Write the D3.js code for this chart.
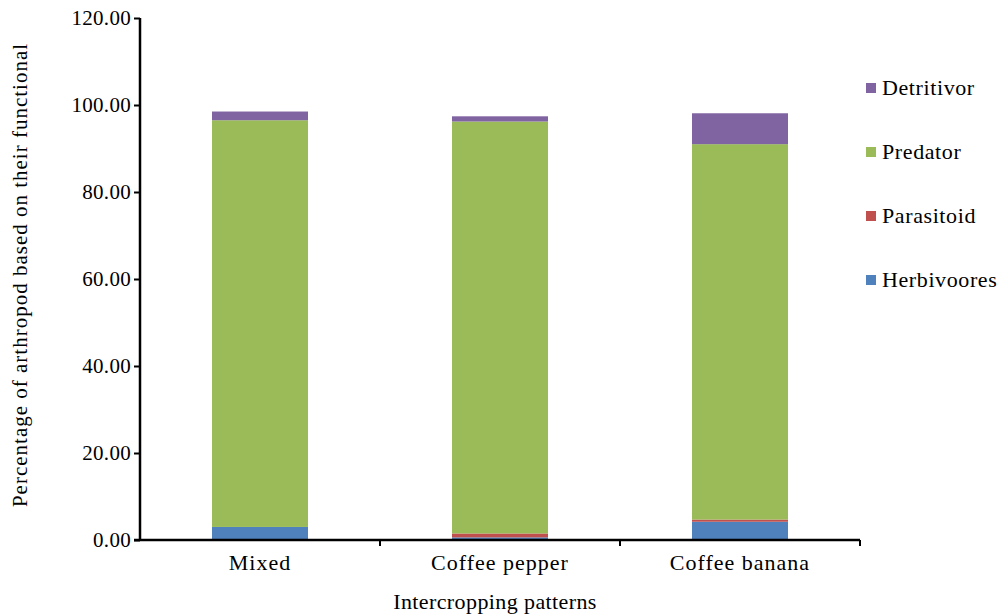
<!DOCTYPE html>
<html>
<head>
<meta charset="utf-8">
<script src="https://cdn.jsdelivr.net/npm/d3@7"></script>
<style>
body { margin: 0; background: #fff; }
text { font-family: "Liberation Serif", "Times New Roman", serif; fill: #000; }
</style>
</head>
<body>
<svg id="chart" width="1004" height="616"></svg>
<script>
// data
var categories = ["Mixed", "Coffee pepper", "Coffee banana"];
var groups = ["Herbivoores", "Parasitoid", "Predator", "Detritivor"];
var herbivoores = [3.0, 0.6, 4.2];
var parasitoid = [0.0, 0.9, 0.5];
var predator = [93.5, 94.7, 86.3];
var detritivor = [2.0, 1.2, 7.1];
var yTicks = [0, 20, 40, 60, 80, 100, 120];
var colors = ["#4F81BD", "#C0504D", "#9BBB59", "#8064A2"];

var rows = categories.map(function(c, i) {
    return {cat: c, Herbivoores: herbivoores[i], Parasitoid: parasitoid[i],
            Predator: predator[i], Detritivor: detritivor[i]};
});

var svg = d3.select("#chart");
var plotLeft = 140, plotRight = 860, plotTop = 18, plotBottom = 540;

var x = d3.scaleBand().domain(categories).range([plotLeft, plotRight]).paddingInner(0.6).paddingOuter(0.3);
var xEdge = d3.scaleLinear().domain([0, 3]).range([plotLeft, plotRight]);
var y = d3.scaleLinear().domain([0, 120]).range([plotBottom, plotTop]);

var series = d3.stack().keys(groups)(rows);

svg.append("g")
    .selectAll("g")
    .data(series)
    .enter()
    .append("g")
    .attr("fill", function(d, i) { return colors[i]; })
    .selectAll("rect")
    .data(function(d) { return d; })
    .enter()
    .append("rect")
    .attr("x", function(d) { return x(d.data.cat); })
    .attr("y", function(d) { return y(d[1]); })
    .attr("width", x.bandwidth())
    .attr("height", function(d) { return y(d[0]) - y(d[1]); });

// y axis
var yAxis = svg.append("g")
    .attr("transform", "translate(" + plotLeft + ",0)")
    .call(d3.axisLeft(y).tickValues(yTicks).tickSize(6).tickFormat(d3.format(".2f")));
yAxis.select(".domain").remove();
yAxis.append("line")
    .attr("x1", 0).attr("x2", 0)
    .attr("y1", plotTop).attr("y2", plotBottom)
    .attr("stroke", "#000").attr("stroke-width", 2.5);
yAxis.selectAll(".tick line").attr("stroke", "#000").attr("stroke-width", 2);
yAxis.selectAll("text")
    .attr("x", -9)
    .style("font-size", "21px")
    .style("font-family", "Liberation Serif")
    .style("letter-spacing", "0.3px");

// x axis line + boundary ticks
svg.append("line")
    .attr("x1", plotLeft - 6).attr("x2", plotRight)
    .attr("y1", plotBottom).attr("y2", plotBottom)
    .attr("stroke", "#000").attr("stroke-width", 2.5);
svg.selectAll(".xtick")
    .data([1, 2, 3])
    .enter()
    .append("line")
    .attr("x1", function(d) { return xEdge(d); })
    .attr("x2", function(d) { return xEdge(d); })
    .attr("y1", plotBottom).attr("y2", plotBottom + 6)
    .attr("stroke", "#000").attr("stroke-width", 2);

svg.selectAll(".xlab")
    .data(categories)
    .enter()
    .append("text")
    .attr("x", function(d) { return x(d) + x.bandwidth() / 2; })
    .attr("y", 570)
    .attr("text-anchor", "middle")
    .style("font-size", "22px")
    .style("letter-spacing", "1px")
    .text(function(d) { return d; });

svg.append("text")
    .attr("x", 495).attr("y", 609)
    .attr("text-anchor", "middle")
    .style("font-size", "22px")
    .style("letter-spacing", "0.4px")
    .text("Intercropping patterns");

svg.append("text")
    .attr("transform", "translate(27,275) rotate(-90)")
    .attr("text-anchor", "middle")
    .style("font-size", "21px")
    .style("letter-spacing", "1px")
    .text("Percentage of arthropod based on their functional");

// legend, top entry is the top of the stack
var legendItems = groups.slice().reverse();
var legend = svg.selectAll(".leg")
    .data(legendItems)
    .enter()
    .append("g")
    .attr("transform", function(d, i) { return "translate(866," + (88 + i * 64) + ")"; });
legend.append("rect")
    .attr("x", 0).attr("y", -5)
    .attr("width", 10).attr("height", 10)
    .attr("fill", function(d) { return colors[groups.indexOf(d)]; });
legend.append("text")
    .attr("x", 16).attr("y", 7)
    .style("font-size", "22px")
    .style("letter-spacing", "0.6px")
    .text(function(d) { return d; });
</script>
</body>
</html>
